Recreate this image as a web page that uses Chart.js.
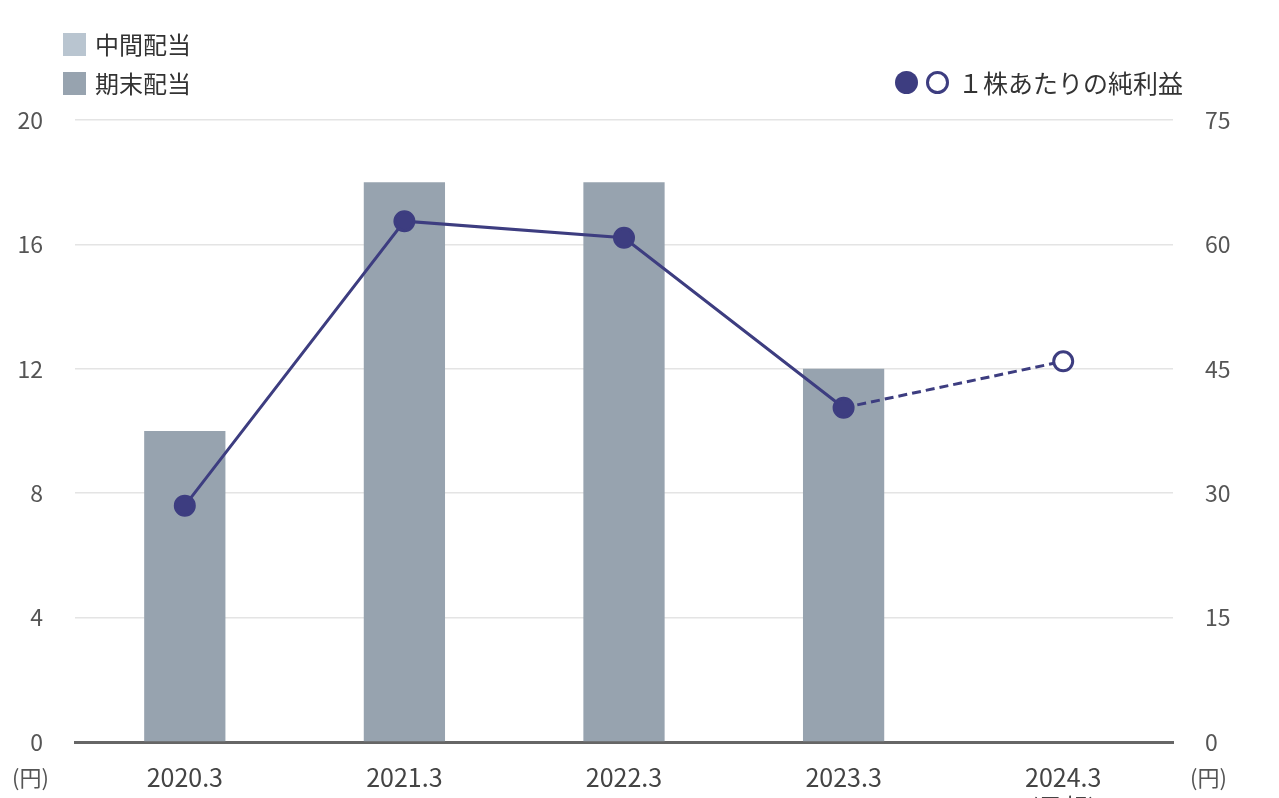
<!DOCTYPE html>
<html lang="ja">
<head>
<meta charset="utf-8">
<script src="https://cdn.jsdelivr.net/npm/chart.js@4.4.1/dist/chart.umd.min.js"></script>
<style>
    html, body { margin: 0; padding: 0; background: #fff; }
    #wrap { position: relative; width: 1279px; height: 798px; overflow: hidden;
        font-family: "Noto Sans CJK JP", "Noto Sans", sans-serif; color: #333; }
    #chart { position: absolute; left: 0; top: 0; }
    .lg { position: absolute; font-size: 24px; line-height: 28px; white-space: nowrap; }
    .sq { position: absolute; width: 23px; height: 23px; }
    .dot { position: absolute; width: 23px; height: 23px; border-radius: 50%; box-sizing: border-box; }
    .unit { position: absolute; font-size: 22px; line-height: 26px; color: #555; }
</style>
</head>
<body>
<div id="wrap">
    <canvas id="chart" width="1279" height="798"></canvas>

    <div class="sq" style="left:63px; top:33px; background:#b9c5d0;"></div>
    <div class="lg" style="left:95px; top:30px;">中間配当</div>
    <div class="sq" style="left:63px; top:72px; background:#97a3af;"></div>
    <div class="lg" style="left:95px; top:69px;">期末配当</div>

    <div class="dot" style="left:895px; top:71px; background:#3d3d80;"></div>
    <div class="dot" style="left:926px; top:71px; border:3px solid #3d3d80; background:#fff;"></div>
    <div class="lg" style="left:958px; top:68px; font-size:25px;">１株あたりの純利益</div>

    <div class="unit" style="left:12px; top:763px;">(円)</div>
    <div class="unit" style="left:1190px; top:763px;">(円)</div>
</div>
<script>
"use strict";

const categories = ["2020.3", "2021.3", "2022.3", "2023.3", ["2024.3", "(予想)"]];
const interimDividend = [0, 0, 0, 0, null];
const yearEndDividend = [10, 18, 18, 12, null];
const epsValues = [28.5, 62.8, 60.8, 40.3, 45.9];
const leftTicks = [0, 4, 8, 12, 16, 20];
const rightTicks = [0, 15, 30, 45, 60, 75];

const lineColor = "#3d3d80";
const fontFamily = "'Noto Sans CJK JP', 'Noto Sans', sans-serif";

const ctx = document.getElementById("chart");

new Chart(ctx, {
    type: "bar",
    data: {
        labels: categories,
        datasets: [
            {
                type: "line",
                label: "１株あたりの純利益",
                data: epsValues,
                yAxisID: "y1",
                borderColor: lineColor,
                borderWidth: 3,
                pointRadius: 9.5,
                pointHoverRadius: 9.5,
                pointBorderWidth: 3,
                pointBorderColor: lineColor,
                pointBackgroundColor: epsValues.map((v, i) => (i === epsValues.length - 1 ? "#fff" : lineColor)),
                segment: {
                    borderDash: (c) => (c.p1DataIndex === epsValues.length - 1 ? [9, 5] : undefined),
                },
                order: 0,
            },
            {
                label: "中間配当",
                data: interimDividend,
                backgroundColor: "#b9c5d0",
                yAxisID: "y",
                stack: "div",
                barPercentage: 0.37,
                categoryPercentage: 1,
                order: 1,
            },
            {
                label: "期末配当",
                data: yearEndDividend,
                backgroundColor: "#97a3af",
                yAxisID: "y",
                stack: "div",
                barPercentage: 0.37,
                categoryPercentage: 1,
                order: 1,
            },
        ],
    },
    options: {
        responsive: false,
        animation: false,
        layout: {
            padding: { top: 120, left: 0, right: 0, bottom: 0 },
        },
        plugins: {
            legend: { display: false },
            tooltip: { enabled: false },
        },
        scales: {
            x: {
                stacked: true,
                grid: { display: false },
                border: { display: true, color: "#666", width: 3 },
                ticks: { color: "#444", font: { family: fontFamily, size: 25 }, padding: 12, maxRotation: 0 },
                afterFit: (s) => { s.height = 56; },
            },
            y: {
                stacked: true,
                position: "left",
                min: 0,
                max: 20,
                afterBuildTicks: (s) => { s.ticks = leftTicks.map((v) => ({ value: v })); },
                grid: { color: "#e4e4e4", lineWidth: 1.5, drawTicks: false },
                border: { display: false },
                ticks: { color: "#555", font: { family: fontFamily, size: 23 }, padding: 32 },
                afterFit: (s) => { s.width = 75; },
            },
            y1: {
                position: "right",
                min: 0,
                max: 75,
                afterBuildTicks: (s) => { s.ticks = rightTicks.map((v) => ({ value: v })); },
                grid: { display: false, drawTicks: false },
                border: { display: false },
                ticks: { color: "#555", font: { family: fontFamily, size: 23 }, padding: 32 },
                afterFit: (s) => { s.width = 106; },
            },
        },
    },
});
</script>
</body>
</html>
